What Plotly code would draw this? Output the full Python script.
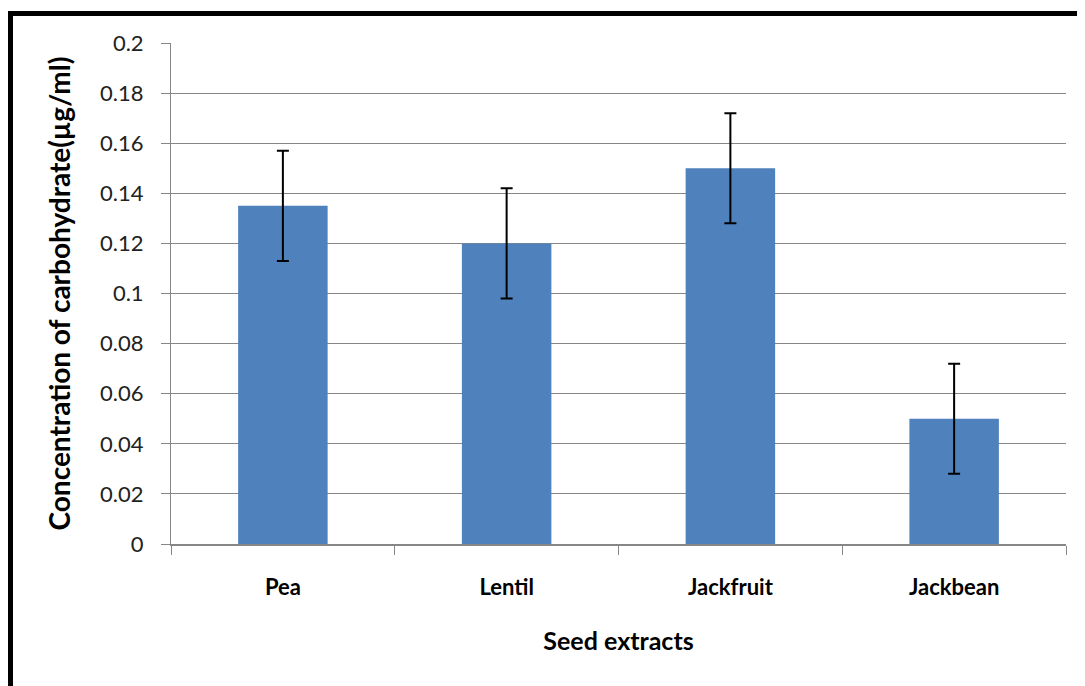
import plotly.graph_objects as go

categories = ["Pea", "Lentil", "Jackfruit", "Jackbean"]
values = [0.135, 0.12, 0.15, 0.05]
errors = [0.022, 0.022, 0.022, 0.022]
y_ticks = [0, 0.02, 0.04, 0.06, 0.08, 0.1, 0.12, 0.14, 0.16, 0.18, 0.2]
y_tick_labels = ["0", "0.02", "0.04", "0.06", "0.08", "0.1", "0.12", "0.14", "0.16", "0.18", "0.2"]

# page body has an 8px margin; figure covers page pixels 8..1085 x 8..686
OFF = 8
W, H = 1085 - OFF, 686 - OFF
L, R, T, B = 171 - OFF, 19, 43 - OFF, 142
pw, ph = W - L - R, H - T - B

def px_x(x):
    return (x - OFF - L) / pw

def px_y(y):
    return (H - B - (y - OFF)) / ph

fig = go.Figure()
fig.add_trace(go.Bar(
    x=categories, y=values,
    marker=dict(color="#4F81BD", line=dict(width=0)),
    error_y=dict(type="data", array=errors, visible=True, color="black", thickness=2, width=6),
))

font_family = "Lato, 'Open Sans', sans-serif"
fig.update_layout(
    width=W, height=H,
    margin=dict(l=L, r=R, t=T, b=B),
    paper_bgcolor="white", plot_bgcolor="white",
    bargap=0.6,
    showlegend=False,
    font=dict(family=font_family, color="black"),
    xaxis=dict(
        tickson="boundaries", ticks="outside", ticklen=9, tickcolor="#868686",
        showline=True, linecolor="#868686", linewidth=2,
        tickfont=dict(size=22, color="black", family=font_family, weight="bold"),
        ticklabelstandoff=23,
        title=dict(text="<b>Seed extracts</b>", font=dict(size=25), standoff=33),
        showgrid=False,
    ),
    yaxis=dict(
        range=[0, 0.2], tickvals=y_ticks, ticktext=y_tick_labels,
        ticks="outside", ticklen=9, tickcolor="#868686",
        showline=True, linecolor="#868686", linewidth=1,
        showgrid=True, gridcolor="#868686", gridwidth=1,
        tickfont=dict(size=22, color="#222"),
        ticklabelstandoff=13,
        title=dict(text="<b>Concentration of carbohydrate(µg/ml)</b>", font=dict(size=28), standoff=21),
        zeroline=False,
    ),
)

# black frame on top and left, as in the reference crop
fig.add_shape(type="line", xref="paper", yref="paper",
              x0=px_x(7), x1=px_x(1095), y0=px_y(13.5), y1=px_y(13.5),
              line=dict(color="black", width=5))
fig.add_shape(type="line", xref="paper", yref="paper",
              x0=px_x(10), x1=px_x(10), y0=px_y(11), y1=px_y(700),
              line=dict(color="black", width=6))

fig.write_html("out.html")
